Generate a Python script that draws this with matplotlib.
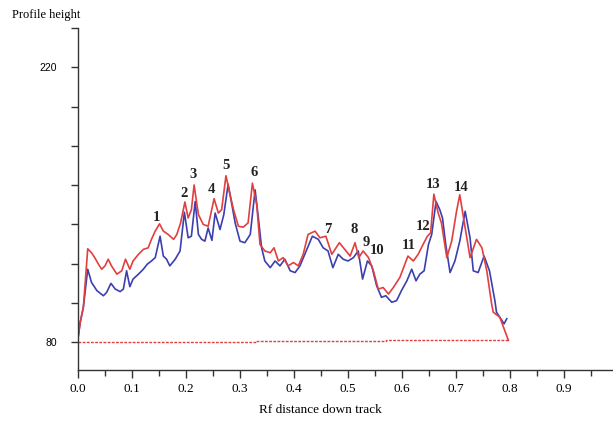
import matplotlib
matplotlib.use("Agg")
import matplotlib.pyplot as plt
import numpy as np

# ---- data ----
red_x = [0.000, 0.004, 0.010, 0.018, 0.025, 0.031, 0.038, 0.044, 0.050, 0.056, 0.062, 0.072,
         0.081, 0.088, 0.096, 0.102, 0.112, 0.121, 0.130, 0.136, 0.143, 0.151, 0.158, 0.167,
         0.177, 0.183, 0.190, 0.198, 0.204, 0.210, 0.215, 0.223, 0.232, 0.241, 0.252, 0.260,
         0.266, 0.274, 0.281, 0.288, 0.297, 0.306, 0.315, 0.323, 0.331, 0.337, 0.346, 0.356,
         0.363, 0.371, 0.380, 0.389, 0.399, 0.408, 0.417, 0.426, 0.439, 0.448, 0.459, 0.470,
         0.484, 0.494, 0.504, 0.513, 0.520, 0.528, 0.538, 0.547, 0.556, 0.565, 0.575, 0.584,
         0.596, 0.611, 0.621, 0.630, 0.639, 0.647, 0.653, 0.659, 0.667, 0.673, 0.683, 0.692,
         0.701, 0.707, 0.717, 0.726, 0.738, 0.748, 0.757, 0.766, 0.769, 0.781, 0.797]
red_y = [82.0, 90.0, 98.0, 127.6, 125.6, 123.1, 119.7, 117.2, 118.9, 122.3, 118.9, 114.7,
         116.4, 122.3, 117.2, 121.4, 124.8, 127.3, 128.1, 132.4, 136.6, 140.3, 136.6, 134.9,
         132.4, 134.9, 140.8, 151.4, 143.3, 147.5, 160.1, 145.0, 140.0, 139.1, 153.1, 145.8,
         147.5, 164.8, 155.9, 147.5, 139.1, 138.6, 140.8, 161.0, 150.0, 129.8, 126.5, 125.6,
         128.1, 121.4, 123.1, 118.9, 120.6, 118.9, 124.8, 134.9, 136.6, 133.2, 134.0, 124.8,
         130.7, 127.3, 123.9, 130.7, 123.1, 126.5, 123.1, 116.4, 107.1, 107.9, 104.6, 107.9,
         113.0, 123.9, 121.4, 124.8, 129.8, 134.0, 135.7, 155.4, 145.8, 140.8, 123.1, 131.5,
         146.7, 155.1, 138.2, 123.1, 132.4, 128.1, 116.4, 99.5, 95.3, 92.8, 81.0]

blue_x = [0.000, 0.004, 0.010, 0.018, 0.025, 0.035, 0.047, 0.053, 0.061, 0.069, 0.078, 0.084,
          0.090, 0.096, 0.102, 0.112, 0.121, 0.128, 0.136, 0.143, 0.152, 0.158, 0.164, 0.170,
          0.180, 0.189, 0.197, 0.204, 0.210, 0.217, 0.223, 0.229, 0.235, 0.241, 0.248, 0.254,
          0.263, 0.270, 0.278, 0.285, 0.291, 0.300, 0.309, 0.319, 0.328, 0.334, 0.340, 0.346,
          0.356, 0.365, 0.374, 0.383, 0.393, 0.402, 0.411, 0.420, 0.434, 0.445, 0.454, 0.463,
          0.472, 0.482, 0.491, 0.500, 0.510, 0.519, 0.527, 0.536, 0.544, 0.553, 0.562, 0.570,
          0.581, 0.590, 0.599, 0.609, 0.618, 0.626, 0.633, 0.641, 0.649, 0.655, 0.663, 0.670,
          0.675, 0.681, 0.689, 0.698, 0.707, 0.717, 0.726, 0.732, 0.741, 0.752, 0.762, 0.772,
          0.775, 0.785, 0.789, 0.794]
blue_y = [82.0, 90.0, 98.0, 117.2, 110.5, 106.3, 103.7, 105.4, 110.0, 107.1, 105.8, 107.1,
          116.4, 108.3, 112.2, 114.7, 117.2, 119.7, 121.4, 123.1, 134.0, 123.9, 122.3, 118.9,
          122.3, 126.5, 146.2, 133.2, 134.0, 151.7, 134.9, 132.4, 131.5, 138.2, 131.9, 145.8,
          137.4, 145.0, 160.5, 150.0, 140.8, 131.5, 130.7, 134.9, 157.6, 143.3, 128.1, 121.4,
          118.0, 121.4, 118.9, 122.3, 116.4, 115.5, 118.9, 124.8, 134.0, 132.4, 128.1, 126.5,
          118.0, 124.8, 122.3, 121.4, 123.1, 126.5, 112.2, 121.4, 118.9, 108.8, 102.9, 103.7,
          100.4, 101.2, 106.3, 111.3, 117.2, 111.3, 114.7, 116.4, 129.8, 134.9, 151.7, 147.5,
          143.3, 129.8, 115.5, 121.4, 131.5, 146.7, 133.2, 116.4, 115.5, 123.9, 116.4, 101.2,
          95.3, 91.1, 89.4, 92.0]

base_x = [0.0, 0.085, 0.33, 0.57, 0.797]
base_y = [80.0, 80.4, 80.8, 81.2, 81.2]

peak_labels = ["1", "2", "3", "4", "5", "6", "7", "8", "9", "10", "11", "12", "13", "14"]
peak_x = [0.146, 0.196, 0.213, 0.248, 0.274, 0.326, 0.463, 0.511, 0.533, 0.554, 0.613, 0.639, 0.657, 0.709]
peak_y = [143.6, 155.8, 165.4, 157.8, 169.9, 166.4, 137.6, 137.6, 131.0, 126.5, 129.5, 139.1, 160.3, 158.8]

x_ticks = [0.0, 0.1, 0.2, 0.3, 0.4, 0.5, 0.6, 0.7, 0.8, 0.9]
y_ticks = [80, 100, 120, 140, 160, 180, 200, 220, 240]
y_ticklabels = ["80", "", "", "", "", "", "", "220", ""]

# ---- figure ----
serif = "Liberation Serif"
sans = "Liberation Sans"
fig = plt.figure(figsize=(6.13, 4.24), dpi=100)
ax = fig.add_axes([78 / 613, 54 / 424, (613 - 78) / 613, (370 - 28) / 424])

red = "#e0403f"
blue = "#3c3fb0"
ax.plot(blue_x, blue_y, color=blue, lw=1.2)
ax.plot(red_x, red_y, color=red, lw=1.2)
ax.step(base_x, base_y, where="post", color=red, lw=1.0, ls=(0, (2, 1)))

for t, px, py in zip(peak_labels, peak_x, peak_y):
    ax.text(px, py, t, fontfamily=serif, fontweight="bold", fontsize=10.5,
            ha="center", va="center", color="#222222")

ax.set_xlim(0, 535 / 540)
ax.set_ylim(65.9, 240)

ax.spines["top"].set_visible(False)
ax.spines["right"].set_visible(False)
for s in ("left", "bottom"):
    ax.spines[s].set_color("#333333")
    ax.spines[s].set_linewidth(1.0)

ax.set_xticks(x_ticks)
ax.set_xticklabels([f"{v:.1f}" for v in x_ticks], fontfamily=serif, fontsize=9.5)
ax.set_xticks(np.arange(0.05, 0.99, 0.1), minor=True)
ax.tick_params(axis="x", which="major", length=6, width=1.0, color="#333333", pad=3)
ax.tick_params(axis="x", which="minor", length=4, width=1.0, color="#333333")

ax.set_yticks(y_ticks)
ax.set_yticklabels(y_ticklabels, fontfamily=sans, fontsize=7.5)
ax.tick_params(axis="y", which="major", length=5, width=1.0, color="#333333", pad=10)

fig.text(12 / 613, 1 - 15 / 424, "Profile height", fontfamily=serif, fontsize=9,
         ha="left", va="center")
fig.text(320 / 613, 1 - 410 / 424, "Rf distance down track", fontfamily=serif, fontsize=9.5,
         ha="center", va="center")

fig.savefig("out.png", dpi=100)
